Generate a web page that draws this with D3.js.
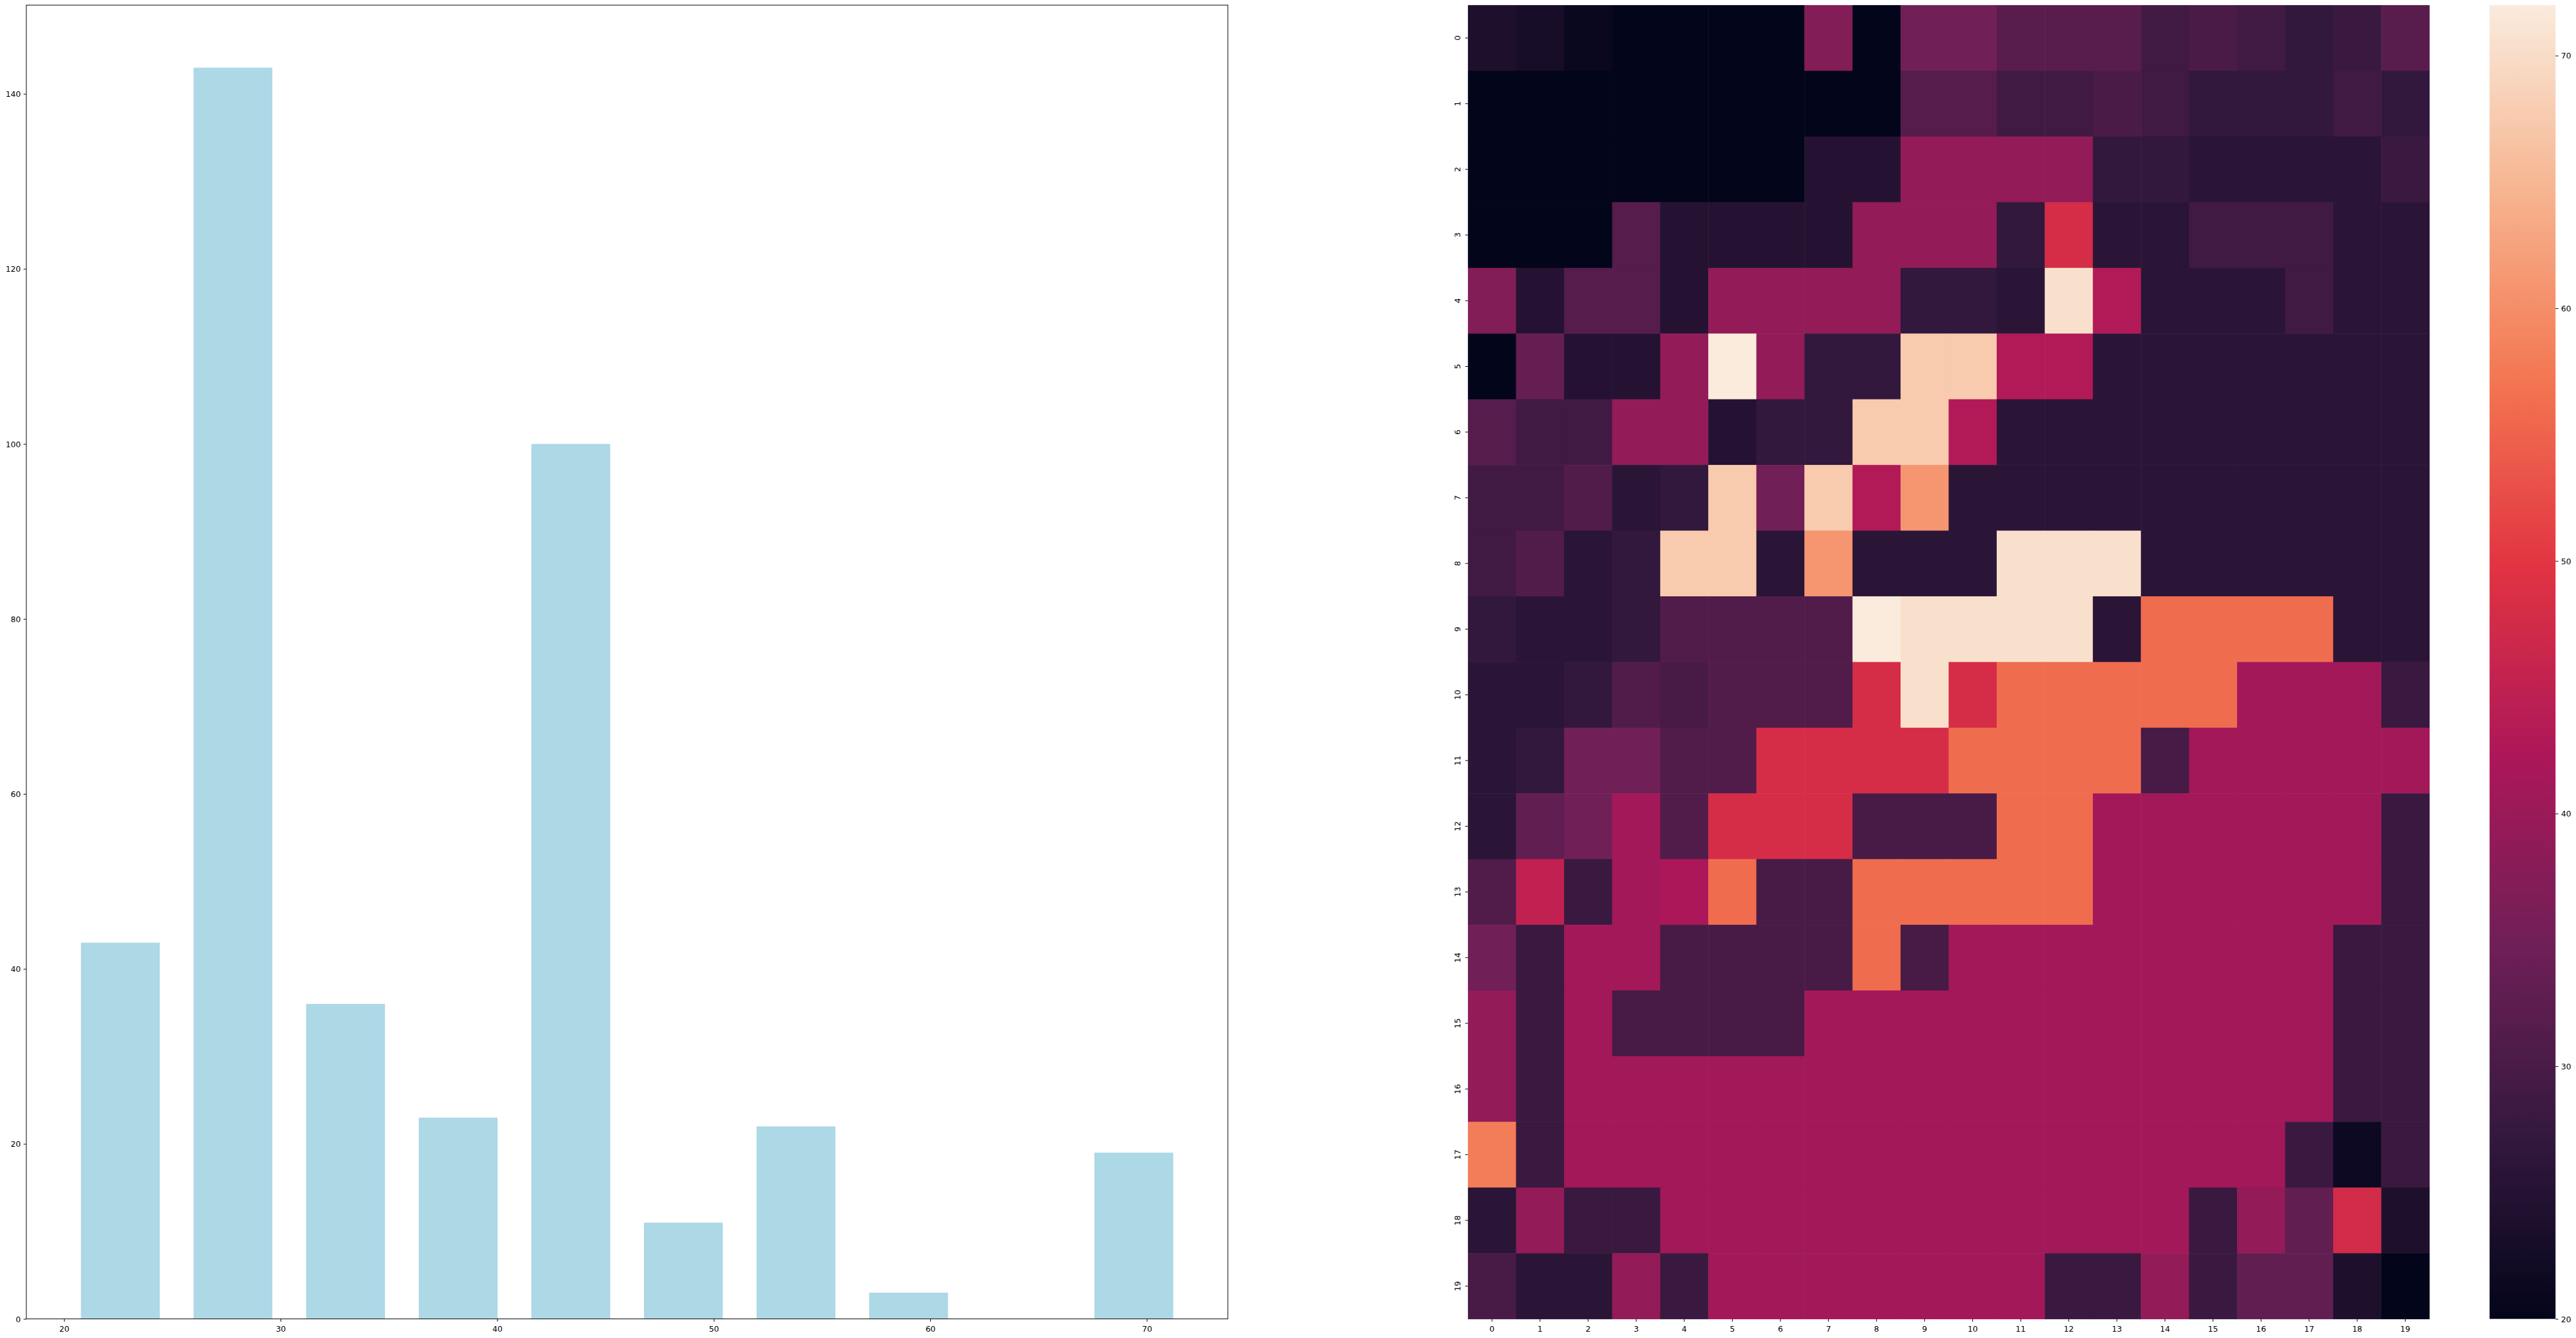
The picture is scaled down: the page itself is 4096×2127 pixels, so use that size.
<!DOCTYPE html>
<html><head><meta charset="utf-8">
<script src="https://cdn.jsdelivr.net/npm/d3@7"></script>
<style>html,body{margin:0;padding:0;background:#fff;} svg{display:block;} text{font-family:"DejaVu Sans",sans-serif;}</style>
</head><body><svg id="c" width="4096" height="2127"></svg>
<script>
// ---------- data ----------
const binEdges = [20, 25.2, 30.4, 35.6, 40.8, 46, 51.2, 56.4, 61.6, 66.8, 72];
const binCounts = [43, 143, 36, 23, 100, 11, 22, 3, 0, 19];
const histXTicks = [20, 30, 40, 50, 60, 70];
const histYTicks = [0, 20, 40, 60, 80, 100, 120, 140];
const heatRowLabels = ["0","1","2","3","4","5","6","7","8","9","10","11","12","13","14","15","16","17","18","19"];
const heatColLabels = ["0","1","2","3","4","5","6","7","8","9","10","11","12","13","14","15","16","17","18","19"];
const heatValues = [
 [24, 23, 21, 20, 20, 20, 20, 37, 20, 35, 35, 32, 32, 32, 29, 30.2, 29, 27, 28, 32],
 [20, 20, 20, 20, 20, 20, 20, 20, 20, 31.5, 31.5, 29, 29, 30.2, 29, 27, 27, 27, 29, 27],
 [20, 20, 20, 20, 20, 20, 20, 25, 25, 39, 39, 39, 39, 27, 27, 26, 26, 26, 26, 28],
 [20, 20, 20, 31.5, 25, 25, 25, 25, 39, 39, 39, 27, 48, 26, 26, 29, 29, 29, 26, 26],
 [37, 25, 31.5, 31.5, 25, 39, 39, 39, 39, 27, 27, 26, 70.5, 43, 26, 26, 26, 29, 26, 26],
 [20, 33.5, 25, 25, 39, 72, 39, 27, 27, 67.5, 67.5, 43, 43, 26, 26, 26, 26, 26, 26, 26],
 [31.5, 29, 29, 39, 39, 25, 27, 27, 67.5, 67.5, 43, 26, 26, 26, 26, 26, 26, 26, 26, 26],
 [29, 29, 31, 26, 27, 67.5, 35, 67.5, 43, 61, 26, 26, 26, 26, 26, 26, 26, 26, 26, 26],
 [29, 31, 26, 27, 67.5, 67.5, 26, 61, 26, 26, 26, 70.5, 70.5, 70.5, 26, 26, 26, 26, 26, 26],
 [27, 26, 26, 27, 31, 31, 31, 31, 72, 70.5, 70.5, 70.5, 70.5, 26, 56, 56, 56, 56, 26, 26],
 [26, 26, 27, 31, 29.7, 31, 31, 31, 48, 70.5, 48, 56, 56, 56, 56, 56, 41, 41, 41, 28],
 [26, 27, 35, 35, 31, 31, 48, 48, 48, 48, 56, 56, 56, 56, 29.7, 41, 41, 41, 41, 41],
 [26, 33, 35, 41, 31, 48, 48, 48, 29.7, 29.7, 29.7, 56, 56, 41, 41, 41, 41, 41, 41, 28],
 [31, 45, 28, 41, 42, 56, 29.7, 29.7, 56, 56, 56, 56, 56, 41, 41, 41, 41, 41, 41, 28],
 [35, 28, 41, 41, 29.7, 29.7, 29.7, 29.7, 56, 29.7, 41, 41, 41, 41, 41, 41, 41, 41, 28, 28],
 [39, 28, 41, 29.7, 29.7, 29.7, 29.7, 41, 41, 41, 41, 41, 41, 41, 41, 41, 41, 41, 28, 28],
 [39, 28, 41, 41, 41, 41, 41, 41, 41, 41, 41, 41, 41, 41, 41, 41, 41, 41, 28, 28],
 [58, 28, 41, 41, 41, 41, 41, 41, 41, 41, 41, 41, 41, 41, 41, 41, 41, 28, 21.6, 28],
 [26, 39, 28, 28, 41, 41, 41, 41, 41, 41, 41, 41, 41, 41, 41, 28, 39, 33, 47.5, 24],
 [29.7, 26, 26, 39, 28, 41, 41, 41, 41, 41, 41, 41, 28, 28, 39, 28, 33, 33, 24, 20]
];
const colorMin = 20, colorMax = 72;
const cbarTicks = [20, 30, 40, 50, 60, 70];
const rocketStops = ["#03051a", "#35193e", "#701f57", "#ad1759", "#e13342", "#f37651", "#f6b48f", "#faebdd"];

// ---------- layout (reference pixel units, scaled to window) ----------
const S = 4096 / 4531;
const FS = 13.89, TICK = 4.86, PAD = 4.86, LW = 1.11;
const hist = {x0: 46.3, x1: 2159.7, y0: 9, y1: 2319.3};
const heat = {x0: 2582, x1: 4273, y0: 9, y1: 2319.3};
const cbar = {x0: 4379, x1: 4495, y0: 9, y1: 2319.3};

const svg = d3.select("#c");
svg.append("rect").attr("width", 4096).attr("height", 2127).attr("fill", "#fff");
const root = svg.append("g").attr("transform", `scale(${S})`);

function styleAxis(g) {
  g.select(".domain").remove();
  g.selectAll(".tick line").attr("stroke", "#000").attr("stroke-width", LW);
  g.selectAll(".tick text").attr("fill", "#000").attr("font-size", FS).attr("font-family", '"DejaVu Sans", sans-serif');
}

// ---------- histogram ----------
const bins = binCounts.map((c, i) => {
  const w = binEdges[i + 1] - binEdges[i];
  return {a: binEdges[i] + 0.15 * w, b: binEdges[i + 1] - 0.15 * w, c};
});
const bLo = d3.min(bins, d => d.a), bHi = d3.max(bins, d => d.b);
const mX = (bHi - bLo) * 0.05;
const hx = d3.scaleLinear().domain([bLo - mX, bHi + mX]).range([hist.x0, hist.x1]);
const hy = d3.scaleLinear().domain([0, d3.max(binCounts) * 1.05]).range([hist.y1, hist.y0]);

root.append("g").selectAll("rect").data(bins.filter(d => d.c > 0)).join("rect")
  .attr("x", d => hx(d.a)).attr("width", d => hx(d.b) - hx(d.a))
  .attr("y", d => hy(d.c)).attr("height", d => hy(0) - hy(d.c))
  .attr("fill", "#add8e6");

const gx = root.append("g").attr("transform", `translate(0,${hist.y1})`)
  .call(d3.axisBottom(hx).tickValues(histXTicks).tickSize(TICK).tickPadding(PAD).tickFormat(d3.format("d")));
styleAxis(gx);
gx.selectAll(".tick text").attr("dy", "0.928em");
const gy = root.append("g").attr("transform", `translate(${hist.x0},0)`)
  .call(d3.axisLeft(hy).tickValues(histYTicks).tickSize(TICK).tickPadding(PAD).tickFormat(d3.format("d")));
styleAxis(gy);
gy.selectAll(".tick text").attr("dy", "0.36em");
root.append("rect").attr("x", hist.x0).attr("y", hist.y0)
  .attr("width", hist.x1 - hist.x0).attr("height", hist.y1 - hist.y0)
  .attr("fill", "none").attr("stroke", "#000").attr("stroke-width", LW);

// ---------- heatmap ----------
const rocket = d3.scaleLinear().domain(rocketStops.map((_, i) => i / (rocketStops.length - 1)))
  .range(rocketStops).interpolate(d3.interpolateRgb).clamp(true);
const colorOf = v => rocket((v - colorMin) / (colorMax - colorMin));
const cx = d3.scaleBand().domain(heatColLabels).range([heat.x0, heat.x1]).padding(0);
const cy = d3.scaleBand().domain(heatRowLabels).range([heat.y0, heat.y1]).padding(0);

const cells = [];
heatValues.forEach((row, r) => row.forEach((v, c) => cells.push({r, c, v})));
root.append("g").selectAll("rect").data(cells).join("rect")
  .attr("x", d => cx(heatColLabels[d.c])).attr("y", d => cy(heatRowLabels[d.r]))
  .attr("width", cx.bandwidth() + 0.6).attr("height", cy.bandwidth() + 0.6)
  .attr("fill", d => colorOf(d.v));

const hgx = root.append("g").attr("transform", `translate(0,${heat.y1})`)
  .call(d3.axisBottom(cx).tickSize(TICK).tickPadding(PAD));
styleAxis(hgx);
hgx.selectAll(".tick text").attr("dy", "0.928em");
const hgy = root.append("g").attr("transform", `translate(${heat.x0},0)`)
  .call(d3.axisLeft(cy).tickSize(TICK).tickPadding(PAD));
styleAxis(hgy);
hgy.selectAll(".tick text")
  .attr("x", null).attr("dy", null).attr("text-anchor", "middle")
  .attr("transform", `translate(${-(TICK + PAD + 0.236 * FS)},0) rotate(-90)`);

// ---------- colorbar ----------
const grad = svg.append("defs").append("linearGradient").attr("id", "cbg")
  .attr("x1", 0).attr("y1", 1).attr("x2", 0).attr("y2", 0);
grad.selectAll("stop").data(d3.range(0, 1.0001, 1 / 128)).join("stop")
  .attr("offset", d => d).attr("stop-color", d => rocket(d));
root.append("rect").attr("x", cbar.x0).attr("y", cbar.y0)
  .attr("width", cbar.x1 - cbar.x0).attr("height", cbar.y1 - cbar.y0)
  .attr("fill", "url(#cbg)");
const cs = d3.scaleLinear().domain([colorMin, colorMax]).range([cbar.y1, cbar.y0]);
const cg = root.append("g").attr("transform", `translate(${cbar.x1},0)`)
  .call(d3.axisRight(cs).tickValues(cbarTicks).tickSize(TICK).tickPadding(PAD).tickFormat(d3.format("d")));
styleAxis(cg);
cg.selectAll(".tick text").attr("dy", "0.36em");
</script></body></html>
